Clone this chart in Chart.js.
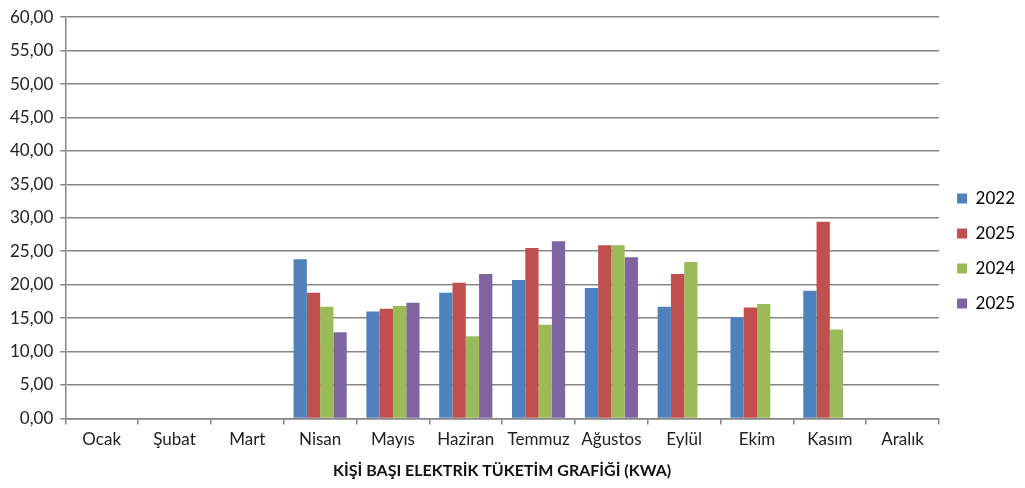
<!DOCTYPE html>
<html>
<head>
<meta charset="utf-8">
<script src="https://cdn.jsdelivr.net/npm/chart.js@4/dist/chart.umd.min.js"></script>
<style>
  html, body { margin: 0; padding: 0; background: #fff; }
  #wrap { width: 1025px; height: 488px; }
</style>
</head>
<body>
<div id="wrap"><canvas id="chart"></canvas></div>
<script>
var months = ["Ocak", "Şubat", "Mart", "Nisan", "Mayıs", "Haziran", "Temmuz", "Ağustos", "Eylül", "Ekim", "Kasım", "Aralık"];
var seriesNames = ["2022", "2025", "2024", "2025"];
var seriesColors = ["#4F81BD", "#C0504D", "#9BBB59", "#8064A2"];

var values2022 = [null, null, null, 23.8, 16.0, 18.8, 20.7, 19.5, 16.7, 15.1, 19.1, null];
var values2025a = [null, null, null, 18.8, 16.4, 20.3, 25.5, 25.9, 21.6, 16.6, 29.4, null];
var values2024 = [null, null, null, 16.7, 16.8, 12.3, 14.0, 25.9, 23.4, 17.1, 13.3, null];
var values2025b = [null, null, null, 12.9, 17.3, 21.6, 26.5, 24.1, null, null, null, null];

var allValues = [values2022, values2025a, values2024, values2025b];

var font = "Lato, 'Open Sans', sans-serif";

var datasets = [];
for (var i = 0; i < allValues.length; i++) {
  datasets.push({
    label: seriesNames[i],
    data: allValues[i],
    backgroundColor: seriesColors[i],
    borderWidth: 0,
    categoryPercentage: 0.73,
    barPercentage: 1.0
  });
}

var ctx = document.getElementById("chart").getContext("2d");
new Chart(ctx, {
  type: "bar",
  data: { labels: months, datasets: datasets },
  options: {
    responsive: true,
    maintainAspectRatio: false,
    animation: false,
    layout: { padding: { top: 4, right: 0, left: 3, bottom: 8 } },
    plugins: {
      tooltip: { enabled: false },
      legend: {
        position: "right",
        // blank title only pushes the item column down a little
        title: { display: true, text: " ", padding: 3, font: { size: 10 } },
        labels: {
          boxWidth: 10,
          boxHeight: 10,
          padding: 18,
          color: "#000",
          font: { family: font, size: 17 }
        }
      }
    },
    scales: {
      x: {
        grid: {
          drawOnChartArea: false,
          drawTicks: true,
          tickLength: 6,
          color: "#868686",
          lineWidth: 1.5
        },
        border: { color: "#868686", width: 1.5 },
        ticks: {
          color: "#222",
          padding: 5,
          font: { family: font, size: 17 }
        },
        title: {
          display: true,
          text: "KİŞİ BAŞI ELEKTRİK TÜKETİM GRAFİĞİ (KWA)",
          color: "#111",
          padding: { top: 6, bottom: 0 },
          font: { family: font, size: 16, weight: "bold" }
        }
      },
      y: {
        min: 0,
        max: 60,
        ticks: {
          stepSize: 5,
          color: "#222",
          padding: 7,
          font: { family: font, size: 17 },
          callback: function (v) { return v.toFixed(2).replace(".", ","); }
        },
        grid: {
          color: "#868686",
          lineWidth: 1.5,
          tickLength: 5
        },
        border: { color: "#868686", width: 1.5 }
      }
    }
  }
});
</script>
</body>
</html>
